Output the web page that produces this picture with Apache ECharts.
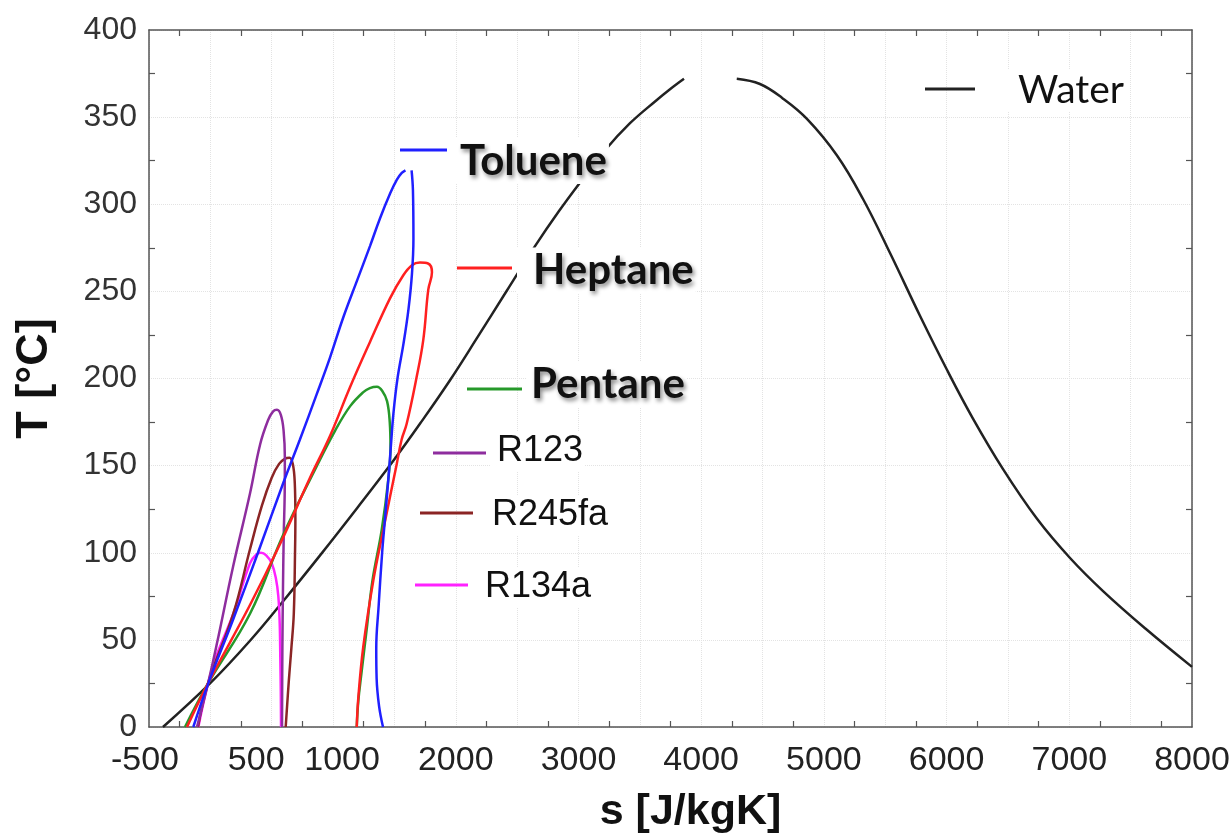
<!DOCTYPE html>
<html>
<head>
<meta charset="utf-8">
<script src="https://cdn.jsdelivr.net/npm/echarts@6.0.0/dist/echarts.min.js"></script>
<style>
html,body{margin:0;padding:0;background:#fff;}
#chart{width:1230px;height:839px;}
</style>
</head>
<body>
<div id="chart"></div>
<script>
// ---- data: [s (J/kgK), T (°C)] ----
const xTickLabels = [-500, 500, 1000, 2000, 3000, 4000, 5000, 6000, 7000, 8000];

const tolueneLiquid = [[-139,0],[-17,25],[187,62],[388,100],[594,140],[730,165],[867,191],[975,212],[1083,235],[1200,257],[1301,276],[1383,292],[1464,306],[1519,314],[1560,318],[1590,319.5]];
const tolueneVapor = [[1640,319.5],[1651,308],[1655,280],[1643,260],[1615,240],[1574,220],[1525,200],[1492,180],[1470,160],[1448,140],[1424,120],[1400,100],[1372,70],[1352,45],[1355,28],[1375,12],[1407,0]];

const heptane = [[-190,0],[-19,25],[323,70],[568,105],[812,143],[975,167],[1138,195],[1301,221],[1464,246],[1570,259],[1643,265],[1708,266.5],[1774,266],[1806,261],[1776,251],[1735,222],[1676,199],[1600,174],[1559,165],[1519,151],[1409,113],[1328,84],[1246,46],[1206,17],[1193,0]];

const pentane = [[-207,0],[-19,25],[323,65],[592,110],[869,150],[1016,170],[1138,184],[1244,192],[1300,194.5],[1358,195.3],[1400,193],[1440,187],[1462,175],[1468,160],[1450,142],[1396,113],[1321,84],[1274,56],[1230,30],[1206,15],[1193,0]];

const r123 = [[-109,0],[-19,25],[54,48],[185,92],[323,134],[405,162],[470,176],[510,181],[543,182],[575,179],[597,170],[607,155],[606,135],[598,110],[592,80],[587,45],[584,0]];

const r245fa = [[-101,0],[-19,25],[187,65],[323,102],[420,127],[500,143],[560,151],[610,154],[645,154.5],[672,151],[688,140],[693,120],[690,100],[680,65],[660,45],[640,27],[614,0]];

const r134a = [[-98,0],[-19,25],[45,40],[187,65],[323,94],[375,99],[413,100],[455,98.5],[500,94],[535,85],[554,75],[565,60],[570,40],[574,20],[576,0]];

const waterLiquid = [[-386,0],[-3,25],[323,49.5],[608,73.5],[894,98.5],[1200,126],[1488,152.5],[1708,174],[1953,199],[2180,224],[2417,250.5],[2646,276],[2840,296],[3029,314],[3216,331],[3420,346.5],[3624,359],[3746,366],[3860,372]];
const waterVapor = [[4290,372],[4479,369],[4660,361],[4862,349],[5107,328],[5319,303],[5539,272],[5783,236],[6003,205],[6215,177],[6460,148],[6737,119.5],[7006,97],[7275,78],[7620,56.5],[8000,34.5]];

// ---- styling ----
const COLORS = {
  Toluene: '#2020ff', Heptane: '#ff2020', Pentane: '#26992a',
  R123: '#8e2d9e', R245fa: '#8b2525', R134a: '#ff22ff', Water: '#222222'
};

function line(name, data) {
  return {
    type: 'line', name: name, data: data, showSymbol: false, symbol: 'none',
    smooth: 0.4, clip: true,
    lineStyle: { color: COLORS[name], width: 2.5 },
    itemStyle: { color: COLORS[name] },
    emphasis: { disabled: true }
  };
}

const axisLineStyle = { show: true, onZero: false, lineStyle: { color: '#555', width: 1.5 } };
const minorTick = { show: true, splitNumber: 2, length: 6, lineStyle: { color: '#555', width: 1.2 } };
const gridLine = { show: true, lineStyle: { color: '#e3e3e3', type: 'dotted', width: 1 } };
const LAB_FONT = "'Liberation Sans', Arial, sans-serif";

function xAxis(pos, main) {
  return {
    type: 'value', position: pos, min: -500, max: 8000, interval: 500,
    axisLine: axisLineStyle,
    axisTick: { show: false, inside: true },
    minorTick: minorTick,
    splitLine: main ? gridLine : { show: false },
    axisLabel: main ? {
      show: true, margin: 17, fontSize: 34, color: '#222', fontFamily: LAB_FONT,
      showMinLabel: true, showMaxLabel: true, hideOverlap: false,
      formatter: v => {
        if (xTickLabels.indexOf(v) < 0) return '';
        if (v === 500) return '{l|' + v + '}';
        if (v === 1000) return '{r|' + v + '}';
        if (v === -500) return '{m|' + v + '}';
        return String(v);
      },
      rich: {
        l: { fontSize: 34, fontFamily: LAB_FONT, color: '#222', padding: [0, 31, 0, 0] },
        r: { fontSize: 34, fontFamily: LAB_FONT, color: '#222', padding: [0, 0, 0, 18] },
        m: { fontSize: 34, fontFamily: LAB_FONT, color: '#222', padding: [0, 8, 0, 0] }
      }
    } : { show: false },
    name: main ? 's [J/kgK]' : '',
    nameLocation: 'middle', nameGap: 64,
    nameTextStyle: { fontSize: 43, fontWeight: 'bold', color: '#111',
      fontFamily: LAB_FONT, padding: [0, 0, 0, 40] }
  };
}
function yAxis(pos, main) {
  return {
    type: 'value', position: pos, min: 0, max: 400, interval: 50,
    axisLine: axisLineStyle,
    axisTick: { show: false, inside: true },
    minorTick: minorTick,
    splitLine: main ? gridLine : { show: false },
    axisLabel: main ? { show: true, margin: 12, fontSize: 32, color: '#333', fontFamily: LAB_FONT } : { show: false },
    name: main ? 'T [°C]' : '',
    nameLocation: 'middle', nameGap: 92,
    nameTextStyle: { fontSize: 45, fontWeight: 'bold', color: '#111', fontFamily: LAB_FONT }
  };
}

// legend entry: short coloured segment at (left, ly), text shifted by d px (down > 0) relative to the segment
function legend(name, left, ly, w, d, o) {
  const lh = o.lh;
  let H, icon;
  if (d >= 0) {
    H = 2 * d + 3;
    icon = 'path://M0,0h' + w + 'v3h-' + w + 'zM' + (w - 0.01) + ',' + H + 'h0.01v0.01h-0.01z';
  } else {
    H = -2 * d + 3;
    icon = 'path://M0,0h0.01v0.01h-0.01zM0,' + (H - 3) + 'h' + w + 'v3h-' + w + 'z';
  }
  const centre = ly + d;
  const ts = {
    fontFamily: o.font, fontSize: o.size, fontWeight: o.weight || 'normal',
    color: '#111', lineHeight: lh, backgroundColor: '#fff',
    padding: [0, 2, 0, o.pl]
  };
  if (o.shadow) {
    ts.textShadowColor = 'rgba(0,0,0,0.45)';
    ts.textShadowBlur = 4;
    ts.textShadowOffsetX = 2;
    ts.textShadowOffsetY = 3;
  }
  return {
    data: [name], left: left, top: centre - Math.max(H, lh) / 2, padding: 0,
    orient: 'horizontal', itemWidth: w, itemHeight: H, icon: icon, symbolKeepAspect: false,
    selectedMode: false, itemStyle: { borderWidth: 0 }, textStyle: ts
  };
}
const BOLD = "Lato, 'Open Sans', sans-serif";

const option = {
  animation: false,
  backgroundColor: '#fff',
  grid: { left: 149, right: 38, top: 30, bottom: 112, containLabel: false, outerBoundsMode: 'none' },
  xAxis: [xAxis('bottom', true), xAxis('top', false)],
  yAxis: [yAxis('left', true), yAxis('right', false)],
  legend: [
    legend('Toluene', 400, 150, 47, 11, { font: BOLD, size: 42, weight: 'bold', lh: 46, pl: 8, shadow: true }),
    legend('Heptane', 457, 268, 55, 2.5, { font: BOLD, size: 42, weight: 'bold', lh: 46, pl: 16, shadow: true }),
    legend('Pentane', 467, 389, 55, -5, { font: BOLD, size: 42, weight: 'bold', lh: 46, pl: 4, shadow: true }),
    legend('R123', 433, 453, 53, -1.5, { font: LAB_FONT, size: 36, lh: 40, pl: 6 }),
    legend('R245fa', 420, 513, 53, 2.5, { font: LAB_FONT, size: 36, lh: 40, pl: 14 }),
    legend('R134a', 415, 585, 53, 2, { font: LAB_FONT, size: 36, lh: 40, pl: 12 }),
    legend('Water', 925, 89, 50, 1, { font: BOLD, size: 39, lh: 42, pl: 38 })
  ],
  series: [
    line('Water', waterLiquid),
    line('Water', waterVapor),
    line('R134a', r134a),
    line('R245fa', r245fa),
    line('R123', r123),
    line('Pentane', pentane),
    line('Heptane', heptane),
    line('Toluene', tolueneLiquid),
    line('Toluene', tolueneVapor)
  ]
};

const chart = echarts.init(document.getElementById('chart'), null, { renderer: 'canvas' });
chart.setOption(option);
</script>
</body>
</html>
